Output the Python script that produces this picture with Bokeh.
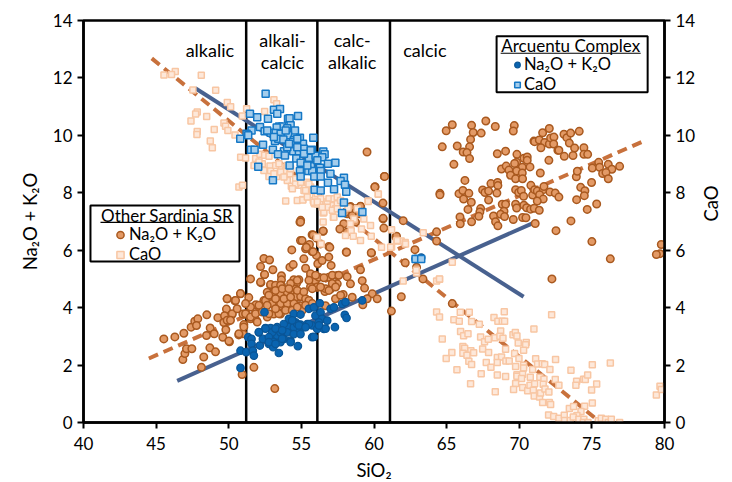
import math
from bokeh.plotting import figure
from bokeh.embed import file_html
from bokeh.resources import INLINE
from bokeh.models import Legend, LegendItem, LinearAxis, FixedTicker, Label, Span, BoxAnnotation, Range1d

# Other Sardinia SR: Na2O + K2O
other_alk_x = [65.39,64.97,66.72,66.83,67.38,67.7,68.35,69.66,69.59,66.65,66.58,64.7,65.73,66.14,66.4,66.58,65.5,68.49,69.06,69.84,69.82,69.68,70.32,70.55,70.55,70.21,70.74,68.78,69.1,69.29,69.82,70.21,69.4,69.75,70.23,71.01,71.06,71.38,71.61,72.07,71.75,71.49,72.07,72.16,72.39,72.37,73.08,73.28,73.54,74.13,73.45,73.81,74.45,72.66,72.73,73.1,73.7,74.45,74.71,72.04,71.45,75.47,75.03,75.53,76.13,76.38,76.91,75.74,75.97,76.13,73.93,74.0,74.98,74.23,74.52,74.48,73.95,75.33,74.68,73.56,72.53,75.0,76.27,79.78,79.69,79.44,72.25,66.26,64.54,64.54,65.85,66.12,66.53,66.17,66.7,66.47,67.48,67.64,67.89,67.89,68.05,68.51,68.53,68.46,67.34,67.29,67.22,65.92,65.94,66.72,68.23,68.37,68.53,68.83,69.06,68.95,68.72,68.99,69.59,70.23,70.46,69.75,69.82,70.32,70.51,70.78,71.03,71.38,69.75,69.96,70.14,70.3,70.8,70.92,71.06,71.24,71.65,71.7,72.11,72.48,72.73,71.4,71.65,71.24,71.1,62.01,64.31,64.31,62.82,61.51,62.15,62.93,63.37,61.88,65.39,61.2,
59.52,60.71,60.07,60.62,60.62,58.39,59.08,58.74,58.97,58.16,54.95,
45.53,46.29,46.91,46.84,46.98,47.09,47.46,47.41,47.66,47.87,47.78,48.49,49.25,48.72,48.47,49.0,49.59,50.05,48.7,49.09,48.28,48.12,49.89,50.42,50.81,51.38,49.84,50.23,49.71,49.66,49.98,49.8,50.97,51.2,51.5,52.19,52.42,52.81,53.04,52.46,52.21,53.63,53.63,53.63,52.88,53.1,52.65,52.42,51.87,52.99,53.56,53.56,54.48,54.83,54.67,54.6,54.02,54.25,54.83,54.02,54.48,54.94,55.52,55.63,55.63,55.97,56.2,56.09,55.29,54.21,54.44,55.17,54.34,54.94,54.9,55.56,55.29,55.74,56.04,56.13,56.43,55.74,56.5,56.32,56.89,56.89,57.05,58.09,59.83,57.47,56.89,58.15,59.19,58.38,57.47,57.01,56.62,59.35,59.88,57.88,57.35,58.5,59.53,60.22,59.07,56.66,59.23,51.73,50.92,53.17,50.97,50.69,51.04,51.5,51.91,52.65,53.1,53.56,
60.73,60.06,60.63,60.68,58.38,59.07,58.73,57.92,57.65,58.04,58.15,58.5,56.5,55.81,56.96,56.04,55.35,55.81,58.11,59.81,61.55,54.94,55.05,
52.47,52.19,52.88,53.22,53.57,54.26,54.72,55.63,55.98,55.52,56.55,57.13,57.58,53.11,53.57,54.03,54.6,54.95,55.29,56.09,56.67,52.53,52.99,53.57,54.03,54.49,52.08,50.81,50.47,49.89,50.24,51.16,51.5,51.96,51.85,49.89,51.04,50.7,50.01,52.76,53.45,55.06,55.52,57.7,57.13,
53.22,53.68,54.14,52.76,53.22,53.8,54.26,54.72,55.17,55.75,56.32,56.9,57.36,52.65,53.22,53.91,54.37,54.72,55.29,55.75,51.5,51.16,52.31,50.58,50.12]
other_alk_y = [10.37,10.16,10.35,10.1,10.08,10.5,10.31,10.34,10.15,9.86,9.6,9.6,9.63,9.42,9.4,9.19,8.99,9.36,9.45,9.34,9.06,9.02,9.2,9.25,9.13,8.89,8.9,8.83,8.93,8.79,8.76,8.69,8.61,8.49,8.49,9.8,9.78,9.84,10.09,10.24,9.75,9.57,9.7,9.91,9.94,9.7,10.04,9.92,10.08,10.14,9.73,9.56,9.57,9.48,9.48,9.27,9.3,9.34,9.34,9.13,8.69,9.06,8.86,8.89,8.99,8.82,8.92,8.67,8.71,8.49,8.56,8.75,8.36,8.19,8.07,7.9,7.76,7.61,7.42,7.02,6.68,6.3,5.7,6.2,5.88,5.85,5.0,8.43,7.98,7.93,7.97,8.08,7.98,7.78,7.67,7.42,8.1,8.01,8.06,7.75,8.32,8.36,8.25,7.99,7.45,7.33,7.18,7.16,6.92,6.99,7.19,6.99,6.85,7.6,7.6,7.36,7.25,7.17,7.07,7.14,7.13,7.6,7.47,7.57,7.48,7.43,7.46,7.39,8.11,8.01,8.08,7.88,8.26,7.92,8.11,8.06,8.11,8.22,8.03,7.99,7.85,7.93,7.78,7.71,6.93,7.03,6.64,6.32,6.02,6.46,5.56,5.41,5.0,4.38,4.14,3.88,
9.42,8.57,8.21,7.64,7.09,7.52,7.52,7.44,7.27,7.27,7.04,
2.91,2.98,3.11,2.19,2.4,2.57,2.57,3.32,3.53,3.61,3.38,3.75,3.65,3.29,3.03,3.09,2.97,2.81,2.6,2.46,2.28,1.92,4.31,4.24,4.48,4.35,3.95,3.76,3.72,3.48,3.53,3.23,3.78,3.78,5.0,5.43,5.71,5.66,5.32,5.15,4.87,5.11,4.97,4.78,4.78,4.57,4.54,4.25,4.1,4.42,4.5,4.07,4.97,4.97,4.85,4.65,4.42,4.48,4.36,4.13,4.13,4.07,4.25,4.73,5.08,4.94,5.06,4.71,5.37,5.41,5.5,5.7,6.01,6.34,6.98,6.2,6.05,5.95,5.82,5.53,5.64,6.54,6.66,6.22,6.13,5.76,5.47,5.94,5.9,5.12,5.06,5.08,4.94,4.83,4.83,4.65,4.56,4.68,4.48,4.46,4.31,4.36,4.31,4.31,5.32,4.07,4.1,1.92,1.67,1.18,3.09,3.05,3.41,3.61,3.55,3.67,3.78,3.78,
8.57,8.2,7.11,6.77,7.5,7.53,6.98,6.92,6.74,7.32,6.63,7.21,6.67,6.53,6.1,6.42,6.1,5.95,5.93,5.91,6.49,6.98,6.34,
5.15,4.89,4.81,4.78,4.78,4.84,4.95,5.18,5.13,4.95,5.04,5.13,5.13,4.54,4.49,4.54,4.37,4.39,4.31,4.72,4.66,4.25,4.14,4.14,4.14,4.14,4.08,4.49,4.25,4.31,3.79,3.79,3.67,3.5,3.79,3.56,3.33,3.09,2.84,3.79,3.79,3.91,4.25,4.43,4.84,
4.6,4.66,4.66,4.43,4.31,4.31,4.37,4.6,4.55,4.66,4.72,4.6,4.72,4.08,3.96,3.91,3.91,4.02,4.08,4.14,4.02,4.14,3.85,3.96,3.56]

# Other Sardinia SR: CaO
other_cao_x = [62.01,62.93,64.31,64.51,64.31,64.51,65.5,65.87,65.94,66.56,66.72,67.25,68.26,68.53,68.83,68.99,68.97,64.7,65.96,66.17,66.47,67.34,67.61,67.87,68.33,68.72,68.67,68.88,69.57,69.73,69.84,71.01,69.93,70.48,70.44,70.3,69.06,69.68,66.12,66.24,66.12,66.67,66.86,66.4,66.53,66.72,67.48,67.89,65.36,64.97,65.71,67.38,67.73,68.05,68.49,68.78,68.49,69.08,69.31,69.98,69.75,70.3,70.3,68.49,69.06,66.65,68.35,69.84,69.84,70.23,70.16,70.76,70.92,71.13,71.26,71.58,71.75,72.11,72.5,72.23,73.56,75.03,76.27,71.42,71.7,72.48,72.73,73.95,73.9,74.43,74.55,74.71,75.33,74.98,69.75,69.61,70.23,70.58,70.74,71.06,70.97,71.03,71.4,71.47,71.65,71.77,72.04,71.61,72.07,72.16,72.02,72.37,72.73,73.1,73.12,73.51,73.45,73.74,74.5,75.03,74.25,73.97,73.72,74.11,74.45,74.41,74.73,75.44,75.65,75.95,76.13,76.34,76.91,79.44,79.69,79.78,
63.39,61.21,61.55,61.87,62.15,61.21,65.39,62.91,64.51,
45.54,46.32,46.06,48.11,47.53,49.1,49.9,50.13,51.23,50.93,47.83,47.72,48.48,47.4,49.67,49.78,49.94,49.0,47.83,47.81,50.43,48.73,48.87,50.82,51.16,50.7,50.95,53.11,53.3,52.47,51.85,52.15,52.47,52.77,52.31,52.84,52.88,52.77,53.57,53.3,53.92,54.21,54.03,54.6,54.31,54.83,55.41,55.18,55.64,53.92,54.72,55.09,55.82,55.98,55.91,56.51,56.67,56.9,57.25,57.47,56.6,57.13,57.47,57.2,58.62,59.59,60.3,58.21,
60.29,59.6,59.76,59.07,59.81,59.14,58.43,58.57,58.04,56.5,57.24,56.36,56.09,59.3,58.84,56.09,56.55,56.78,57.35,55.1,55.86,60.52,61.14,61.6,62.17,58.38,
51.74,52.08,52.42,53.23,53.57,53.8,54.26,54.6,54.95,55.29,55.52,55.75,56.1,56.33,56.79,57.13,57.47,57.7,56.1,56.44,53.46,53.11,54.03,54.38,55.41]
other_cao_y = [4.93,5.21,4.93,4.99,3.85,3.67,3.58,3.53,3.84,3.84,3.52,3.42,3.66,3.53,3.53,3.53,3.86,2.91,3.17,3.02,3.09,2.98,2.81,2.9,2.95,3.19,3.0,2.93,3.06,3.13,3.01,3.26,2.77,2.79,2.71,2.52,2.55,2.4,2.65,2.59,2.41,2.5,2.43,2.34,2.13,2.02,2.56,2.44,2.44,2.23,1.84,1.7,2.09,1.92,2.26,2.28,2.09,2.14,2.14,2.23,1.95,1.99,1.9,1.65,1.6,1.35,1.07,1.66,1.61,1.68,1.53,1.58,1.85,2.22,2.04,2.05,2.02,1.85,2.19,3.75,1.82,2.01,2.07,1.58,1.51,1.5,1.3,1.44,1.3,1.51,1.5,1.65,1.34,1.13,1.36,1.15,1.22,1.11,1.3,1.35,1.12,0.92,0.89,1.03,1.33,1.17,1.06,0.7,0.7,0.63,0.26,0.21,0.15,0.25,0.07,0.07,0.49,0.56,0.57,0.68,0.38,0.24,0.19,0.11,0.11,0.0,0.0,0.06,0.15,0.11,0.0,0.11,0.0,0.96,1.26,1.15,
6.61,6.71,6.32,6.32,6.27,6.11,5.58,5.3,5.0,
12.1,12.22,12.12,12.09,11.58,11.57,11.14,11.0,10.93,10.67,10.81,10.74,10.66,10.5,10.43,10.32,10.17,10.2,10.13,10.03,10.01,9.8,9.57,9.24,9.21,8.2,8.26,11.24,11.1,10.83,9.19,9.34,9.31,9.27,9.01,8.93,8.76,8.57,8.89,8.57,8.78,8.66,8.43,8.49,8.23,8.26,8.37,8.08,8.2,7.71,7.73,7.77,7.73,7.85,7.62,7.3,7.68,7.79,7.79,7.85,7.5,7.56,7.62,7.15,7.09,7.71,7.95,7.47,
7.96,7.7,6.86,6.34,6.49,6.74,6.68,6.49,6.51,6.98,7.15,6.22,6.45,7.09,7.44,7.61,7.32,7.61,7.44,7.75,7.67,6.1,6.1,6.34,6.22,6.92,
8.95,9.07,8.78,8.95,8.72,8.55,8.84,8.31,8.37,8.08,8.31,8.08,7.97,7.79,7.5,7.39,7.44,7.73,7.68,7.5,9.01,8.66,8.95,8.14,7.85]

# Arcuentu Complex: Na2O + K2O
arc_alk_x = [50.81,50.81,51.2,51.34,51.57,51.57,51.66,51.73,52.07,52.14,52.35,52.46,52.53,52.88,52.76,52.99,53.06,53.22,53.33,53.45,53.56,53.79,53.68,54.14,54.14,54.25,54.48,54.94,54.6,54.83,54.76,54.94,55.17,55.4,55.52,55.74,55.86,55.74,56.27,55.97,56.32,56.43,56.78,56.09,56.55,57.31,57.01,57.24,57.81,58.04,57.99,58.11,59.19,53.33,53.56,52.99,52.76,54.48,54.71,55.52,56.2,53.79,53.1,54.02,54.48,54.94,53.22,53.68,54.37,54.83,55.29,55.86,52.76,53.22,53.68,54.26,52.53,52.08,56.21,56.67,63.25,62.86]
arc_alk_y = [1.9,2.5,2.45,2.97,2.91,2.74,2.5,2.33,3.14,2.68,2.91,3.84,3.29,3.29,2.74,2.97,2.62,3.2,3.03,2.42,2.8,2.91,3.26,3.61,3.32,2.85,3.78,3.76,3.49,3.2,2.66,3.41,3.32,3.43,3.96,2.97,4.01,3.38,4.15,3.72,3.84,3.61,3.55,3.26,3.26,3.32,3.96,4.01,4.13,4.19,3.75,3.64,4.25,3.32,3.14,3.14,2.97,3.32,3.43,3.43,3.49,3.43,2.8,3.14,3.08,3.08,3.27,3.21,3.56,3.38,3.32,2.98,2.8,2.74,2.92,2.8,3.27,3.15,3.38,3.27,5.74,5.7]

# Arcuentu Complex: CaO
arc_cao_x = [52.54,51.46,51.96,52.7,52.15,53.11,53.53,53.34,54.08,54.19,54.77,54.26,53.46,53.69,53.3,54.03,54.56,52.47,52.88,53.23,53.57,54.08,54.49,51.57,51.23,51.34,50.79,53.18,53.41,53.76,54.42,54.9,55.82,55.11,52.36,51.53,51.78,53.04,53.8,54.44,54.83,55.18,55.73,53.39,53.87,55.52,55.98,56.51,56.6,56.44,54.65,54.95,56.83,57.34,52.03,54.19,55.66,56.28,54.9,55.48,55.75,56.33,57.0,54.95,55.89,56.33,57.93,53.04,56.83,57.7,58.0,55.91,56.33,57.25,58.09,57.93,59.2,57.8,62.86,63.25,
53.92,54.72,55.18,55.64,54.72,54.03,53.11,52.65,54.15,56.1,55.41]
arc_cao_y = [11.45,10.75,10.63,10.58,10.29,10.89,10.92,10.75,10.58,10.6,10.67,10.35,10.31,10.31,10.27,10.25,10.17,10.14,10.09,10.08,10.06,10.0,9.85,10.17,10.06,10.0,9.88,9.8,9.88,9.86,9.78,9.92,9.92,9.71,9.67,9.5,9.5,9.5,9.45,9.45,9.45,9.53,9.5,9.34,9.3,9.22,9.29,9.44,9.34,9.24,9.19,9.05,9.01,9.05,8.91,8.95,8.92,8.87,8.76,8.76,8.76,8.76,8.66,8.57,8.57,8.57,8.52,8.44,8.35,8.41,8.28,8.11,8.08,8.12,8.04,7.66,7.33,7.3,5.69,5.69,
10.17,9.88,9.36,9.48,9.59,9.59,9.94,10.17,9.71,9.13,8.95]

# trend lines
trend_alk_x = [46.45, 71.1]
trend_alk_y = [1.45, 6.98]
trend_cao_x = [47.7, 70.3]
trend_cao_y = [11.64, 4.38]
other_alk_trend_x = [44.5, 78.7]
other_alk_trend_y = [2.23, 9.83]
other_cao_trend_x = [44.7, 75.6]
other_cao_trend_y = [12.68, 0.0]
# class boundaries (SiO2)
boundaries = [51.2, 56.1, 61.1]
x_ticks = [40, 45, 50, 55, 60, 65, 70, 75, 80]
y_ticks = [0, 2, 4, 6, 8, 10, 12, 14]

FONT = "Lato"
p = figure(width=732, height=482, frame_width=581, frame_height=402,
           min_border_left=83, min_border_right=68, min_border_top=20, min_border_bottom=60,
           x_range=Range1d(40, 80), y_range=Range1d(0, 14),
           output_backend="svg", toolbar_location=None, background_fill_color="white", border_fill_color="white")
p.grid.visible = False
p.outline_line_color = "black"
p.outline_line_width = 2.5

right = LinearAxis(y_range_name="default")
p.add_layout(right, "right")
for ax, lab, tk in [(p.xaxis[0], "SiO₂", x_ticks), (p.yaxis[0], "Na₂O + K₂O", y_ticks), (right, "CaO", y_ticks)]:
    ax.ticker = FixedTicker(ticks=tk)
    ax.axis_label = lab
    ax.axis_label_text_font = FONT
    ax.axis_label_text_font_style = "normal"
    ax.axis_label_text_font_size = "18.5px"
    ax.axis_label_text_color = "black"
    ax.major_label_text_font = FONT
    ax.major_label_text_font_size = "17px"
    ax.major_label_text_color = "black"
    ax.axis_line_color = "black"
    ax.axis_line_width = 2.5
    ax.major_tick_line_color = "black"
    ax.major_tick_line_width = 2
    ax.major_tick_in = 0
    ax.major_tick_out = 6
    ax.minor_tick_line_color = None
p.xaxis[0].major_label_standoff = 8
p.xaxis[0].axis_label_standoff = 6
p.yaxis[0].axis_label_standoff = 9
right.axis_label_standoff = 13
right.axis_label_orientation = math.pi / 2

for b in boundaries:
    p.add_layout(Span(location=b, dimension="height", line_color="black", line_width=2.5, level="underlay"))

SOLID = "#48618f"
DASH = "#c8713c"
p.line(other_alk_trend_x, other_alk_trend_y, line_color=DASH, line_width=4, line_dash="10 6")
p.line(other_cao_trend_x, other_cao_trend_y, line_color=DASH, line_width=4, line_dash="10 6")
p.line(trend_alk_x, trend_alk_y, line_color=SOLID, line_width=4)
p.line(trend_cao_x, trend_cao_y, line_color=SOLID, line_width=4)

OA = dict(marker="circle", fill_color="#e39a66", line_color="#a9591f", line_width=1.5)
OC = dict(marker="square", fill_color="#fde8da", line_color="#f8c6a3", line_width=1.5)
AA = dict(marker="circle", fill_color="#0a64b0", line_color="#0a5596", line_width=1.2)
AC = dict(marker="square", fill_color="#a4cdec", line_color="#1578c6", line_width=1.5)
p.scatter(other_alk_x, other_alk_y, size=7.5, **OA)
p.scatter(other_cao_x, other_cao_y, size=6, **OC)
p.scatter(arc_alk_x, arc_alk_y, size=7.5, **AA)
p.scatter(arc_cao_x, arc_cao_y, size=7, **AC)
# renderers with no visible point, they only carry the legend keys
nan = float("nan")
k_oa = p.scatter([nan], [nan], size=7.5, **OA)
k_oc = p.scatter([nan], [nan], size=6, **OC)
k_aa = p.scatter([nan], [nan], size=5.5, **AA)
k_ac = p.scatter([nan], [nan], size=5, **AC)

for txt, x, y in [("alkalic", 48.7, 12.96), ("alkali-", 53.7, 13.32), ("calcic", 53.7, 12.55),
                  ("calc-", 58.5, 13.32), ("alkalic", 58.5, 12.55), ("calcic", 63.5, 12.96)]:
    p.add_layout(Label(x=x, y=y, text=txt, text_font=FONT, text_font_size="18px", text_color="black",
                       text_align="center", text_baseline="middle"))

def legend(title, r1, r2, loc, gw, gh, box, ul, title_xy):
    p.add_layout(BoxAnnotation(left=box[0], right=box[1], bottom=box[2], top=box[3], level="overlay",
                               fill_color="white", fill_alpha=1, line_color="black", line_width=2, line_alpha=1))
    lg = Legend(items=[LegendItem(label="Na₂O + K₂O", renderers=[r1]), LegendItem(label="CaO", renderers=[r2])],
                location=loc, orientation="vertical",
                label_text_font=FONT, label_text_font_size="16.5px", label_text_color="black",
                border_line_color=None, background_fill_alpha=0, padding=0, margin=0,
                spacing=0, glyph_width=gw, glyph_height=gh, label_height=gh, label_standoff=0)
    p.add_layout(lg, "center")
    p.add_layout(Label(x=title_xy[0], y=title_xy[1], text=title, text_font=FONT, text_font_size="17px",
                       text_color="black", text_align="center", text_baseline="middle", level="overlay"))
    p.add_layout(BoxAnnotation(left=ul[0], right=ul[1], bottom=ul[2], top=ul[2] + 0.04, level="overlay",
                               fill_color="black", fill_alpha=1, line_color=None))

legend("Other Sardinia SR", k_oa, k_oc, (28, 158), 18, 19, (40.48, 50.74, 5.61, 7.56), (41.17, 50.33, 6.95), (45.75, 7.21))
legend("Arcuentu Complex", k_aa, k_ac, (427, 328), 14, 17, (68.44, 78.84, 11.5, 13.45), (68.72, 78.36, 12.84), (73.54, 13.14))

open("out.html", "w").write(file_html(p, INLINE))
